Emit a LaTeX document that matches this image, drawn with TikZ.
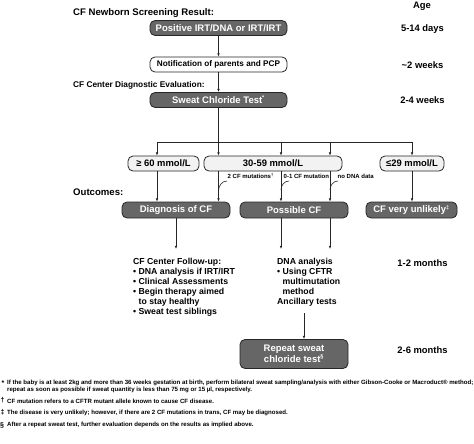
\documentclass[tikz,border=0pt]{standalone}
\usepackage{fontspec}
\setmainfont{Liberation Sans}
\usetikzlibrary{arrows.meta}
\definecolor{darkbox}{HTML}{666666}
\definecolor{lightbox}{HTML}{F2F2F2}
\tikzset{
  every node/.style={font=\bfseries},
  darkstep/.style={draw=black!85, line width=0.8pt, fill=darkbox, text=white, rounded corners=5pt, inner sep=0pt, minimum height=15pt, font=\fontsize{9.5}{11}\selectfont\bfseries},
  whitestep/.style={draw=black!85, line width=0.8pt, fill=white, rounded corners=5pt, inner sep=0pt, minimum height=15pt, font=\fontsize{8.2}{9.5}\selectfont\bfseries},
  lightstep/.style={draw=black!85, line width=0.8pt, fill=lightbox, rounded corners=5pt, inner sep=0pt, minimum height=15pt, font=\fontsize{9.4}{11}\selectfont\bfseries},
  heading/.style={anchor=west, inner sep=0pt, font=\fontsize{9.6}{11}\selectfont\bfseries},
  subheading/.style={anchor=west, inner sep=0pt, font=\fontsize{8.3}{10}\selectfont\bfseries},
  agelabel/.style={inner sep=0pt, font=\fontsize{9.4}{11}\selectfont\bfseries},
  tinylabel/.style={anchor=west, inner sep=0pt, font=\fontsize{6}{7}\selectfont\bfseries},
  listtext/.style={anchor=north west, inner sep=0pt, align=left, font=\fontsize{8.7}{10}\selectfont\bfseries},
  foot/.style={anchor=west, inner sep=0pt, font=\fontsize{6.1}{7}\selectfont\bfseries},
  footmark/.style={anchor=west, inner sep=0pt, font=\fontsize{7}{7}\selectfont\bfseries},
  arr/.style={-{Latex[length=3.2pt,width=2.6pt]}, line width=0.6pt, draw=black!85},
  ln/.style={line width=0.6pt, draw=black!85},
}
\begin{document}
\begin{tikzpicture}[x=1pt,y=-1pt]
\useasboundingbox (0,0) rectangle (474,444);
% headings
\node[heading] (hdr1) at (73,13) {CF Newborn Screening Result:};
\node[subheading] (hdr2) at (73,85) {CF Center Diagnostic Evaluation:};
\node[heading] (hdr3) at (73,192) {Outcomes:};
% age column
\node[agelabel] (age) at (422,6) {Age};
\node[agelabel] (a1) at (422.5,29) {5-14 days};
\node[agelabel] (a2) at (422.5,65) {\textasciitilde 2 weeks};
\node[agelabel] (a3) at (422.5,100) {2-4 weeks};
\node[agelabel] (a4) at (422.5,263) {1-2 months};
\node[agelabel] (a5) at (422.5,350) {2-6 months};
% top chain
\node[darkstep, minimum width=137pt] (b1) at (218.5,28) {Positive IRT/DNA or IRT/IRT};
\node[whitestep, minimum width=137pt] (b2) at (218.5,64.5) {Notification of parents and PCP};
\node[darkstep, minimum width=137pt] (b3) at (218.5,100) {Sweat Chloride Test\textsuperscript{\fontsize{5.5}{5.5}\selectfont *}};
\draw[arr] (b1) -- (b2);
\draw[arr] (b2) -- (b3);
% results row
\node[lightstep, minimum width=71pt] (r60) at (163.5,163.5) {≥ 60 mmol/L};
\node[lightstep, minimum width=138pt] (r30) at (273,163.5) {30-59 mmol/L};
\node[lightstep, minimum width=64pt] (r29) at (412,163.5) {≤29 mmol/L};
\coordinate (split) at (218.5,142);
\coordinate (sl) at (157,142);
\coordinate (sr) at (412,142);
\draw[ln] (b3) -- (split);
\draw[ln] (sl) -- (sr);
\draw[arr] (sl) -- (sl |- r60.north);
\draw[arr] (split) -- (split |- r30.north);
\coordinate (sm1) at (281,142);
\coordinate (sm2) at (330,142);
\draw[arr] (sm1) -- (sm1 |- r30.north);
\draw[arr] (sm2) -- (sm2 |- r30.north);
\draw[arr] (sr) -- (r29);
% outcomes
\node[darkstep, minimum width=108pt, minimum height=16pt] (o1) at (176,210) {Diagnosis of CF};
\node[darkstep, minimum width=108pt, minimum height=16pt] (o2) at (294,210) {Possible CF};
\node[darkstep, minimum width=91pt, minimum height=16pt] (o3) at (411.5,210) {CF very unlikely\textsuperscript{\fontsize{5.5}{5.5}\selectfont ‡}};
\coordinate (v1) at (157,171);
\draw[arr] (v1) -- (v1 |- o1.north);
\coordinate (v2) at (218.5,171);
\coordinate (v3) at (281,171);
\coordinate (v4) at (330,171);
\draw[arr] (v2) -- (v2 |- o1.north);
\draw[arr] (v3) -- (v3 |- o2.north);
\draw[arr] (v4) -- (v4 |- o2.north);
\draw[arr] (r29) -- (r29 |- o3.north);
% labels with curved leaders
\node[tinylabel] (l1) at (227.5,176) {2 CF mutations\textsuperscript{\fontsize{4}{4}\selectfont †}};
\node[tinylabel] (l2) at (283.5,176) {0-1 CF mutation};
\node[tinylabel] (l3) at (337.5,176) {no DNA data};
\coordinate (c1) at (227,181);
\coordinate (c2) at (289,181);
\coordinate (c3) at (338,181);
\draw[ln] (c1) to[out=180,in=90] (218.5,191);
\draw[ln] (c2) to[out=180,in=90] (281,190);
\draw[ln] (c3) to[out=180,in=90] (330,190);
% follow-up texts
\node[listtext] (t1) at (133,257.5) {CF Center Follow-up:\\
\textbullet\ DNA analysis if IRT/IRT\\
\textbullet\ Clinical Assessments\\
\textbullet\ Begin therapy aimed\\
\phantom{\textbullet}\ to stay healthy\\
\textbullet\ Sweat test siblings};
\node[listtext] (t2) at (277,257.5) {DNA analysis\\
\textbullet\ Using CFTR\\
\phantom{\textbullet}\ multimutation\\
\phantom{\textbullet}\ method\\
Ancillary tests};
\coordinate (d1) at (176,218);
\coordinate (d2) at (281,218);
\coordinate (d3) at (330,218);
\draw[arr] (d1) -- (176,249);
\draw[arr] (d2) -- (281,249);
\draw[arr] (d3) -- (330,249);
% repeat
\node[darkstep, minimum width=108pt, minimum height=29pt, align=center, font=\fontsize{9.5}{10.5}\selectfont\bfseries] (rep) at (294,354) {Repeat sweat\\chloride test\textsuperscript{\fontsize{5.5}{5.5}\selectfont §}};
\coordinate (t2b) at (304,313);
\draw[arr] (t2b) -- (t2b |- rep.north);
% footnotes
\node[footmark] (f1m) at (1.5,383.5) {*};
\node[foot] (f1) at (7,383) {If the baby is at least 2kg and more than 36 weeks gestation at birth, perform bilateral sweat sampling/analysis with either Gibson-Cooke or Macroduct® method;};
\node[foot] (f1b) at (7,389.5) {repeat as soon as possible if sweat quantity is less than 75 mg or 15 µl, respectively.};
\node[footmark] (f2m) at (0.5,400) {†};
\node[foot] (f2) at (7,401) {CF mutation refers to a CFTR mutant allele known to cause CF disease.};
\node[footmark] (f3m) at (0.5,412) {‡};
\node[foot] (f3) at (7,412.5) {The disease is very unlikely; however, if there are 2 CF mutations in trans, CF may be diagnosed.};
\node[footmark] (f4m) at (0,425) {§};
\node[foot] (f4) at (7,425) {After a repeat sweat test, further evaluation depends on the results as implied above.};
\end{tikzpicture}
\end{document}
